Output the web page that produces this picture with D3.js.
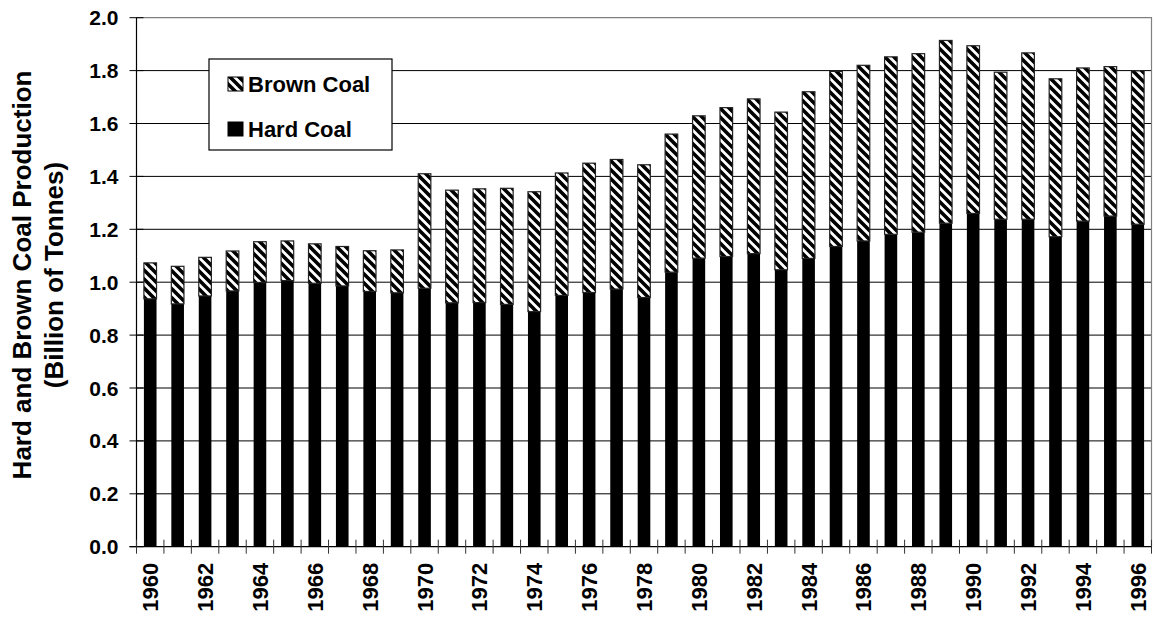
<!DOCTYPE html>
<html>
<head>
<meta charset="utf-8">
<script src="https://cdn.jsdelivr.net/npm/d3@7"></script>
<style>
  html, body { margin: 0; padding: 0; background: #fff; }
  svg { display: block; font-family: "Liberation Sans", Arial, sans-serif; font-weight: bold; }
</style>
</head>
<body>
<svg id="chart" width="1155" height="619"></svg>
<script>
const years = [1960,1961,1962,1963,1964,1965,1966,1967,1968,1969,
               1970,1971,1972,1973,1974,1975,1976,1977,1978,1979,
               1980,1981,1982,1983,1984,1985,1986,1987,1988,1989,
               1990,1991,1992,1993,1994,1995,1996];
const hardCoal = [0.937,0.918,0.948,0.967,0.999,1.006,0.996,0.986,0.965,0.960,
                  0.977,0.922,0.923,0.916,0.889,0.950,0.961,0.974,0.942,1.038,
                  1.091,1.097,1.108,1.047,1.090,1.135,1.156,1.181,1.189,1.223,
                  1.260,1.238,1.238,1.172,1.231,1.250,1.219];
const brownCoal = [0.136,0.142,0.146,0.151,0.154,0.150,0.149,0.149,0.154,0.162,
                   0.433,0.426,0.430,0.439,0.453,0.463,0.489,0.490,0.502,0.522,
                   0.538,0.563,0.585,0.596,0.630,0.662,0.664,0.671,0.675,0.691,
                   0.634,0.556,0.629,0.597,0.579,0.565,0.580];
const yTicks = [0,0.2,0.4,0.6,0.8,1.0,1.2,1.4,1.6,1.8,2.0];
const yTitle = ["Hard and Brown Coal Production", "(Billion of Tonnes)"];
const seriesNames = ["Brown Coal", "Hard Coal"];

const svg = d3.select("#chart");
const L = 136.5, R = 1151.5, T = 17.7, B = 546.7;

const x = d3.scaleBand().domain(years).range([L, R]).padding(0);
const y = d3.scaleLinear().domain([0, 2]).range([B, T]);
const barW = x.bandwidth() * 0.46;

// hatch pattern
const defs = svg.append("defs");
const P = 9;
const pat = defs.append("pattern").attr("id", "hatch")
  .attr("patternUnits", "userSpaceOnUse").attr("width", P).attr("height", P);
pat.append("rect").attr("width", P).attr("height", P).attr("fill", "#fff");
pat.append("path").attr("d", `M-2,-2 L${P+2},${P+2} M-2,${P-2} L2,${P+2} M${P-2},-2 L${P+2},2`)
  .attr("stroke", "#000").attr("stroke-width", 3.6);

// gridlines
svg.append("g").selectAll("line").data(yTicks.filter(d => d > 0 && d < 2)).join("line")
  .attr("x1", L).attr("x2", R).attr("y1", d => y(d)).attr("y2", d => y(d))
  .attr("stroke", "#000").attr("stroke-width", 1);

// plot border (top/right)
svg.append("path").attr("d", `M${L},${T}H${R}V${B}`)
  .attr("fill", "none").attr("stroke", "#808080").attr("stroke-width", 1.2);

// bars
const data = years.map((yr, i) => ({ yr, hard: hardCoal[i], brown: brownCoal[i] }));
const g = svg.append("g");
g.selectAll("rect.hard").data(data).join("rect").attr("class", "hard")
  .attr("x", d => x(d.yr) + (x.bandwidth() - barW) / 2)
  .attr("width", barW)
  .attr("y", d => y(d.hard))
  .attr("height", d => y(0) - y(d.hard))
  .attr("fill", "#000");
g.selectAll("rect.brown").data(data).join("rect").attr("class", "brown")
  .attr("x", d => x(d.yr) + (x.bandwidth() - barW) / 2)
  .attr("width", barW)
  .attr("y", d => y(d.hard + d.brown))
  .attr("height", d => y(d.hard) - y(d.hard + d.brown))
  .attr("fill", "url(#hatch)")
  .attr("stroke", "#222").attr("stroke-width", 1.2);

// y axis
const yAxis = svg.append("g");
yAxis.append("line").attr("x1", L).attr("x2", L).attr("y1", T).attr("y2", B)
  .attr("stroke", "#000").attr("stroke-width", 1.2);
yAxis.selectAll("line.tk").data(yTicks).join("line").attr("class", "tk")
  .attr("x1", L - 7).attr("x2", L + 7).attr("y1", d => y(d)).attr("y2", d => y(d))
  .attr("stroke", "#000");
yAxis.selectAll("text").data(yTicks).join("text")
  .attr("x", L - 18).attr("y", d => y(d) + 7.5)
  .attr("text-anchor", "end").attr("font-size", 21)
  .text(d => d3.format(".1f")(d));

// x axis
const xAxis = svg.append("g");
xAxis.append("line").attr("x1", L - 7).attr("x2", R).attr("y1", B).attr("y2", B)
  .attr("stroke", "#000").attr("stroke-width", 1.2);
const bounds = years.map(yr => x(yr)).concat([x(years[years.length - 1]) + x.bandwidth()]);
xAxis.selectAll("line.tk").data(bounds).join("line").attr("class", "tk")
  .attr("x1", d => d).attr("x2", d => d).attr("y1", B - 7).attr("y2", B + 7)
  .attr("stroke", "#333");
xAxis.selectAll("text").data(years.filter((d, i) => i % 2 === 0)).join("text")
  .attr("transform", d => `translate(${x(d) + x.bandwidth() / 2 + 8},${B + 16}) rotate(-90)`)
  .attr("text-anchor", "end").attr("font-size", 22)
  .text(d => d);

// y title
const tg = svg.append("g").attr("transform", `translate(0,275) rotate(-90)`);
tg.append("text").attr("x", 0).attr("y", 31).attr("text-anchor", "middle")
  .attr("font-size", 26).text(yTitle[0]);
tg.append("text").attr("x", 0).attr("y", 63).attr("text-anchor", "middle")
  .attr("font-size", 26).text(yTitle[1]);

// legend
const lg = svg.append("g");
lg.append("rect").attr("x", 209).attr("y", 59).attr("width", 183).attr("height", 91)
  .attr("fill", "#fff").attr("stroke", "#000").attr("stroke-width", 1.2);
const rows = [{ name: seriesNames[0], fill: "url(#hatch)", cy: 84 },
              { name: seriesNames[1], fill: "#000", cy: 129 }];
rows.forEach(r => {
  lg.append("rect").attr("x", 228).attr("y", r.cy - 7).attr("width", 15).attr("height", 14)
    .attr("fill", r.fill).attr("stroke", "#000").attr("stroke-width", 1);
  lg.append("text").attr("x", 248).attr("y", r.cy + 8).attr("font-size", 22).text(r.name);
});
</script>
</body>
</html>
